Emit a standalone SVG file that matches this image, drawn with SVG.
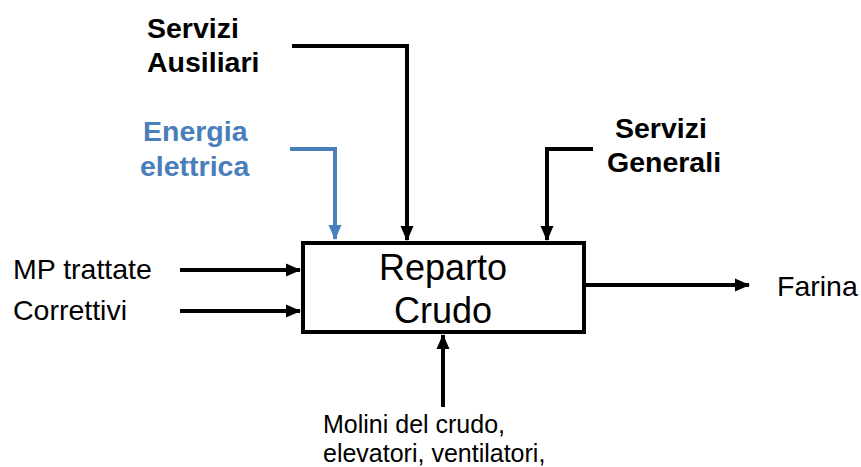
<svg xmlns="http://www.w3.org/2000/svg" width="861" height="467" viewBox="0 0 861 467">
<style>
.t{font-family:"Liberation Sans",Arial,sans-serif;fill:#000}
.b{font-weight:bold;font-size:28.5px}
.r{font-size:28.5px}
.blue{fill:#4a7ebb}
.c{fill:none;stroke:#000;stroke-width:4}
.cb{fill:none;stroke:#4a7ebb;stroke-width:4}
</style>
<defs>
<marker id="ah" markerUnits="userSpaceOnUse" markerWidth="15" markerHeight="15" viewBox="0 0 15 15" refX="14" refY="7.5" orient="auto">
<path d="M0,1 L15,7.5 L0,14 Z" fill="#000"/>
</marker>
<marker id="ahb" markerUnits="userSpaceOnUse" markerWidth="15" markerHeight="15" viewBox="0 0 15 15" refX="14" refY="7.5" orient="auto">
<path d="M0,1 L15,7.5 L0,14 Z" fill="#4a7ebb"/>
</marker>
</defs>
<rect width="861" height="467" fill="#fff"/>
<g id="connectors">
<path class="c" d="M292,46 H407 V240" marker-end="url(#ah)"/>
<path class="cb" d="M290,149 H335 V239" marker-end="url(#ahb)"/>
<path class="c" d="M593,149 H547 V240" marker-end="url(#ah)"/>
<path class="c" d="M180,270 H300" marker-end="url(#ah)"/>
<path class="c" d="M180,311 H300" marker-end="url(#ah)"/>
<path class="c" d="M586,285 H749" marker-end="url(#ah)"/>
<path class="c" d="M443,407 V335" marker-end="url(#ah)"/>
</g>
<g id="reparto">
<rect x="303" y="243" width="281" height="89" fill="#fff" stroke="#000" stroke-width="4"/>
<text class="t" x="443" y="280" font-size="36" text-anchor="middle">Reparto</text>
<text class="t" x="443" y="323" font-size="36" text-anchor="middle">Crudo</text>
</g>
<g id="servizi-ausiliari">
<text class="t b" x="147" y="38">Servizi</text>
<text class="t b" x="147" y="72">Ausiliari</text>
</g>
<g id="energia">
<text class="t b blue" x="143" y="141">Energia</text>
<text class="t b blue" x="140" y="176">elettrica</text>
</g>
<g id="servizi-generali">
<text class="t b" x="615" y="138">Servizi</text>
<text class="t b" x="607" y="172">Generali</text>
</g>
<g id="mp">
<text class="t r" x="13" y="279">MP trattate</text>
</g>
<g id="correttivi">
<text class="t r" x="13" y="320">Correttivi</text>
</g>
<g id="farina">
<text class="t r" x="777" y="296">Farina</text>
</g>
<g id="molini">
<text class="t" x="323" y="433" font-size="25">Molini del crudo,</text>
<text class="t" x="323" y="462" font-size="25">elevatori, ventilatori,</text>
</g>
</svg>
